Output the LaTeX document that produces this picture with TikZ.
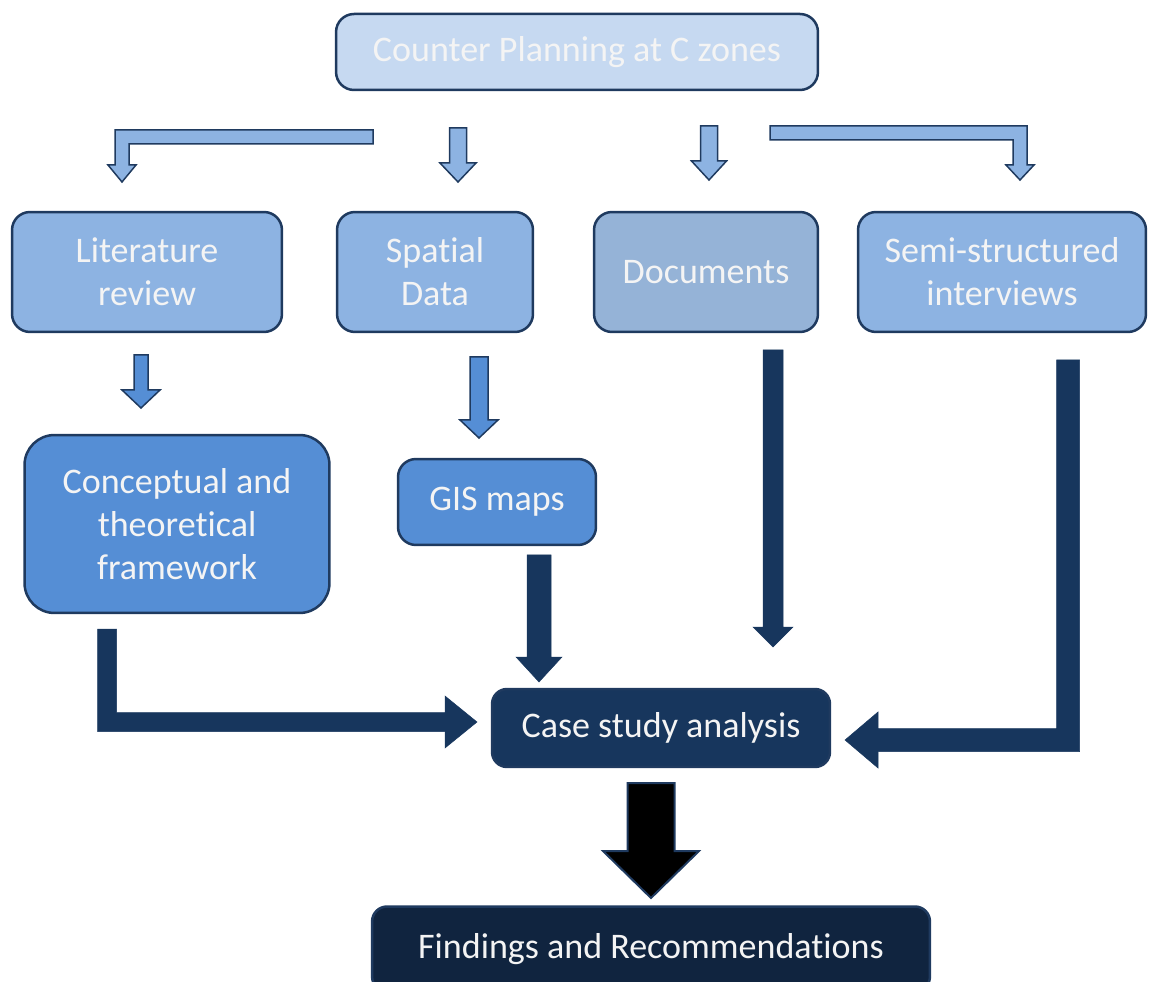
\documentclass[tikz,border=0pt]{standalone}
\usepackage{fontspec}
\setmainfont{Carlito}[Ligatures=NoCommon]
\usetikzlibrary{calc}

\definecolor{lineNavy}{HTML}{1F3A5F}
\definecolor{topFill}{HTML}{C6D9F1}
\definecolor{boxLight}{HTML}{8DB3E2}
\definecolor{boxGrey}{HTML}{95B3D7}
\definecolor{boxMid}{HTML}{558ED5}
\definecolor{boxNavy}{HTML}{17365D}
\definecolor{boxDark}{HTML}{10243F}
\definecolor{textWhite}{HTML}{F4F4F4}

\tikzset{
  box/.style={draw=lineNavy, line width=0.05cm, rounded corners=0.36cm,
    text=textWhite, align=center, inner sep=0pt,
    font=\fontsize{20.5}{24.5}\selectfont},
  lightarr/.style={fill=boxLight, draw=lineNavy, line width=0.03cm},
  midarr/.style={fill=boxMid, draw=lineNavy, line width=0.03cm},
  navyarr/.style={fill=boxNavy, draw=boxNavy, line width=0.01cm},
  blackarr/.style={fill=black, draw=lineNavy, line width=0.04cm}
}

% straight block arrow pointing down: style, from, to, half stem, half head, head length
\newcommand{\blockdown}[6]{%
  \filldraw[#1] ($(#2)+(-#4,0)$) -- ($(#3)+(-#4,-#6)$) -- ($(#3)+(-#5,-#6)$) -- (#3)
    -- ($(#3)+(#5,-#6)$) -- ($(#3)+(#4,-#6)$) -- ($(#2)+(#4,0)$) -- cycle;}

% bent block arrow, horizontal then down: style, from, corner, to, sign, half stem, half head, head length
\newcommand{\blockhd}[8]{%
  \filldraw[#1] ($(#2)+(0,-#6)$) -- ($(#3)+({#5*#6},-#6)$) -- ($(#4)+({#5*#6},-#8)$)
    -- ($(#4)+({#5*#7},-#8)$) -- (#4) -- ($(#4)+({-(#5)*#7},-#8)$)
    -- ($(#4)+({-(#5)*#6},-#8)$) -- ($(#3)+({-(#5)*#6},#6)$) -- ($(#2)+(0,#6)$) -- cycle;}

% bent block arrow, down then horizontal: style, from, corner, to, sign, half stem, half head, head length
\newcommand{\blockvh}[8]{%
  \filldraw[#1] ($(#2)+({-(#5)*#6},0)$) -- ($(#3)+({-(#5)*#6},#6)$) -- ($(#4)+({-(#5)*#8},#6)$)
    -- ($(#4)+({-(#5)*#8},#7)$) -- (#4) -- ($(#4)+({-(#5)*#8},-#7)$)
    -- ($(#4)+({-(#5)*#8},-#6)$) -- ($(#3)+({#5*#6},-#6)$) -- ($(#2)+({#5*#6},0)$) -- cycle;}

\begin{document}
\begin{tikzpicture}[x=0.02cm, y=-0.02cm]
	\useasboundingbox (0,0) rectangle (1149,982);

	% Oben
	\node[box, fill=topFill, minimum width=9.64cm, minimum height=1.52cm] (counter) at (577,52) {Counter Planning at C zones};

	% Quellen
	\node[box, fill=boxLight, minimum width=5.4cm, minimum height=2.4cm] (lit) at (147,272) {Literature\\review};
	\node[box, fill=boxLight, minimum width=3.92cm, minimum height=2.4cm] (spatial) at (435,272) {Spatial\\Data};
	\node[box, fill=boxGrey, minimum width=4.48cm, minimum height=2.4cm] (docs) at (706,272) {Documents};
	\node[box, fill=boxLight, minimum width=5.76cm, minimum height=2.4cm] (semi) at (1002,272) {Semi-structured\\interviews};

	% Zwischenstufe
	\node[box, fill=boxMid, rounded corners=0.6cm, minimum width=6.1cm, minimum height=3.56cm] (concept) at (177,524) {Conceptual and\\theoretical\\framework};
	\node[box, fill=boxMid, minimum width=3.96cm, minimum height=1.72cm] (gis) at (497,502) {GIS maps};

	% Analyse
	\node[box, fill=boxNavy, rounded corners=0.3cm, minimum width=6.76cm, minimum height=1.56cm] (case) at (661,728) {Case study analysis};
	\node[box, fill=boxDark, rounded corners=0.3cm, minimum width=11.16cm, minimum height=1.7cm] (find) at (651,949) {Findings and Recommendations};

	% Pfeilpunkte
	\coordinate (c1a) at (373,137);  \coordinate (c1b) at (122,137);  \coordinate (c1c) at (122,182);
	\coordinate (c2a) at (458,128);  \coordinate (c2b) at (458,182);
	\coordinate (c3a) at (709,126);  \coordinate (c3b) at (709,180);
	\coordinate (c4a) at (770,133);  \coordinate (c4b) at (1020,133); \coordinate (c4c) at (1020,180);
	\coordinate (l1a) at (141,355);  \coordinate (l1b) at (141,408);
	\coordinate (s1a) at (479,357);  \coordinate (s1b) at (479,438);
	\coordinate (k1a) at (107,629);  \coordinate (k1b) at (107,722); \coordinate (k1c) at (477,722);
	\coordinate (g1a) at (539,555);  \coordinate (g1b) at (539,682);
	\coordinate (d1a) at (773,350);  \coordinate (d1b) at (773,647);
	\coordinate (i1a) at (1068,360); \coordinate (i1b) at (1068,740); \coordinate (i1c) at (845,740);
	\coordinate (f1a) at (651,783);  \coordinate (f1b) at (651,898);

	% Pfeile oben
	\blockhd{lightarr}{c1a}{c1b}{c1c}{-1}{7}{14}{17}
	\blockdown{lightarr}{c2a}{c2b}{8.5}{18}{19}
	\blockdown{lightarr}{c3a}{c3b}{8.5}{17.5}{19}
	\blockhd{lightarr}{c4a}{c4b}{c4c}{1}{7}{14}{15}

	% Pfeile Mitte
	\blockdown{midarr}{l1a}{l1b}{7}{19}{18}
	\blockdown{midarr}{s1a}{s1b}{9}{19}{18}

	% Pfeile zur Analyse
	\blockvh{navyarr}{k1a}{k1b}{k1c}{1}{9.5}{26}{32}
	\blockdown{navyarr}{g1a}{g1b}{12}{23}{25}
	\blockdown{navyarr}{d1a}{d1b}{10}{20}{20}
	\blockvh{navyarr}{i1a}{i1b}{i1c}{-1}{11.5}{28}{33}

	% Ergebnis
	\blockdown{blackarr}{f1a}{f1b}{23.5}{48}{47}
\end{tikzpicture}
\end{document}
